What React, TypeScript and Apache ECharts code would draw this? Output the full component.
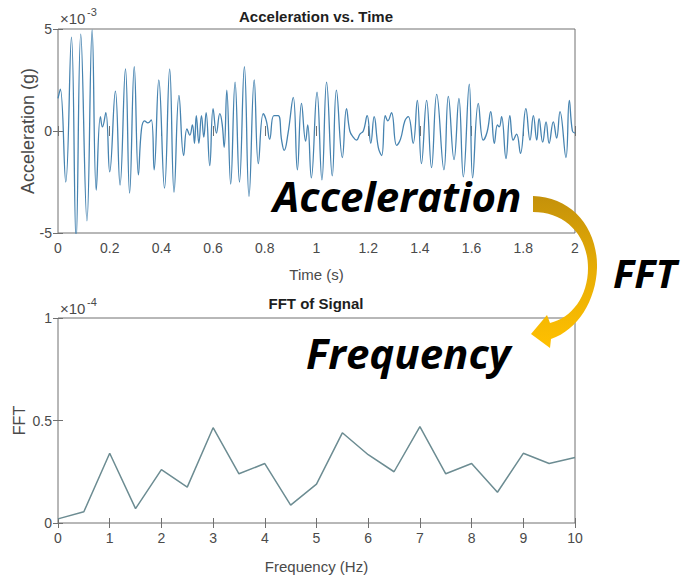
import React, { useEffect, useRef } from "react";
import * as echarts from "echarts";

// ---- Acceleration vs. Time (values in units of 1e-3 g) ----
const accTime = [
  0.0, 0.009, 0.03, 0.052, 0.07, 0.088, 0.112, 0.132, 0.148, 0.164, 0.172, 0.185,
  0.2, 0.222, 0.24, 0.261, 0.277, 0.295, 0.311, 0.323, 0.335, 0.348, 0.361, 0.372,
  0.39, 0.412, 0.432, 0.449, 0.468, 0.486, 0.499, 0.51, 0.52, 0.528, 0.535, 0.545,
  0.555, 0.564, 0.573, 0.587, 0.6, 0.613, 0.626, 0.635, 0.643, 0.653, 0.668, 0.685,
  0.702, 0.721, 0.739, 0.759, 0.775, 0.794, 0.806, 0.819, 0.835, 0.852, 0.865, 0.875,
  0.89, 0.91, 0.926, 0.942, 0.958, 0.966, 0.98, 1.002, 1.021, 1.039, 1.061, 1.077,
  1.1, 1.116, 1.129, 1.142, 1.155, 1.168, 1.181, 1.196, 1.21, 1.223, 1.239, 1.252,
  1.266, 1.276, 1.29, 1.31, 1.325, 1.342, 1.355, 1.374, 1.39, 1.406, 1.426, 1.445,
  1.465, 1.493, 1.51, 1.532, 1.551, 1.568, 1.591, 1.604, 1.626, 1.645, 1.66, 1.674,
  1.688, 1.7, 1.707, 1.716, 1.733, 1.748, 1.761, 1.774, 1.789, 1.81, 1.826, 1.839,
  1.852, 1.861, 1.875, 1.888, 1.9, 1.916, 1.929, 1.942, 1.965, 1.978, 1.99, 2.0,
];
const accValue = [
  1.6, 2.05, -2.5, 4.6, -5.4, 4.75, -4.4, 4.95, -2.9, 0.7, 0.2, 0.9,
  -2.0, 1.95, -2.65, 3.05, -3.05, 3.15, -2.15, 0.1, 0.5, 0.4, 0.55, -1.9,
  2.5, -2.8, 3.05, -3.0, 1.75, -1.2, 0.1, -0.2, 0.3, -0.6, 0.75, -0.6,
  0.75, -0.3, 0.9, -1.7, 1.1, -0.1, 0.85, 0.35, -0.8, 2.0, -2.6, 2.4,
  -2.5, 3.15, -3.2, 2.5, -1.6, 0.85, 0.5, -0.4, 0.75, 0.75, -0.45, -0.95,
  -0.1, 1.65, -1.9, 1.35, -0.5, 0.3, -2.3, 1.9, -2.4, 2.4, -2.2, 2.0,
  -1.3, 1.1, 0.0, -0.3, -0.45, -0.15, 0.0, 0.75, -0.6, 0.7, -0.8, -1.2,
  0.75, 0.5, 0.9, -0.7, -0.4, 0.5, 0.7, -0.6, 1.5, -1.6, 1.5, -1.8,
  1.8, -1.9, 1.7, -1.4, 1.6, -2.25, 2.3, -2.3, 1.35, -0.45, -0.05, 0.95,
  -0.6, 0.3, 0.2, 0.7, -1.35, 0.75, -0.45, -0.15, -1.1, 1.1, -0.45, 0.75,
  -0.45, 0.6, -0.55, 0.45, -0.6, 0.45, -0.35, 0.95, -1.3, 1.5, 0.0, -0.1,
];

// ---- FFT of Signal (values in units of 1e-4) ----
const fftFreq = [0, 0.5, 1, 1.5, 2, 2.5, 3, 3.5, 4, 4.5, 5, 5.5, 6, 6.5, 7, 7.5, 8, 8.5, 9, 9.5, 10];
const fftValue = [
  0.02, 0.055, 0.34, 0.07, 0.26, 0.175, 0.465, 0.24, 0.29, 0.087, 0.19,
  0.44, 0.333, 0.25, 0.47, 0.24, 0.29, 0.15, 0.34, 0.29, 0.32,
];

// ---- Text ----
const topTitle = "Acceleration vs. Time";
const bottomTitle = "FFT of Signal";
const topXName = "Time (s)";
const topYName = "Acceleration (g)";
const bottomXName = "Frequency (Hz)";
const bottomYName = "FFT";
const topExponent = "-3";
const bottomExponent = "-4";
const overlayAcc = "Acceleration";
const overlayFreq = "Frequency";
const overlayFft = "FFT";

const ARROW_D =
  "M533 196 C572 197 598 228 597 268 C596 300 578 330 551 339 L550 348 L531 334 L547 315 L550 323 C572 318 588 296 588 268 C588 236 566 212 533 212 Z";

const FONT = "'Liberation Sans', Arial, Helvetica, sans-serif";
const LABEL = "#4a4a4a";
const LINE = "#707070";

export default function App() {
  const ref = useRef<HTMLDivElement>(null);

  useEffect(() => {
    document.body.style.margin = "0";
    if (!ref.current) return;
    echarts.graphic.registerShape("fftArrow", echarts.graphic.extendPath(ARROW_D, {}) as any);
    const chart = echarts.init(ref.current, undefined, { renderer: "svg" });

    const tick = { show: true, inside: true, length: 5, lineStyle: { color: LINE, width: 1 } };
    const lbl = { fontSize: 14, color: LABEL, fontFamily: FONT };
    const nameStyle = { fontSize: 15, color: LABEL, fontFamily: FONT };

    const option: any = {
      animation: false,
      backgroundColor: "#ffffff",
      title: [
        {
          text: topTitle, left: 316, top: 9, textAlign: "center", padding: 0,
          textStyle: { fontSize: 15, fontWeight: "bold", color: "#1e1e1e", fontFamily: FONT },
        },
        {
          text: bottomTitle, left: 316, top: 296, textAlign: "center", padding: 0,
          textStyle: { fontSize: 15, fontWeight: "bold", color: "#1e1e1e", fontFamily: FONT },
        },
      ],
      grid: [
        { left: 58, top: 29, width: 517, height: 204, show: true, borderColor: LINE, borderWidth: 1, backgroundColor: "#fff" },
        { left: 58, top: 318, width: 517, height: 205, show: true, borderColor: LINE, borderWidth: 1, backgroundColor: "#fff" },
      ],
      xAxis: [
        {
          gridIndex: 0, type: "value", min: 0, max: 2, interval: 0.2, position: "bottom",
          axisLine: { show: false }, axisTick: tick, splitLine: { show: false },
          axisLabel: { ...lbl, margin: 8 },
          name: topXName, nameLocation: "middle", nameGap: 34, nameMoveOverlap: false, nameTextStyle: nameStyle,
        },
        {
          gridIndex: 0, type: "value", min: 0, max: 2, interval: 0.2, position: "top",
          axisLine: { show: false }, axisTick: tick, splitLine: { show: false }, axisLabel: { show: false },
        },
        {
          gridIndex: 1, type: "value", min: 0, max: 10, interval: 1, position: "bottom",
          axisLine: { show: false }, axisTick: tick, splitLine: { show: false },
          axisLabel: { ...lbl, margin: 8 },
          name: bottomXName, nameLocation: "middle", nameGap: 36, nameMoveOverlap: false, nameTextStyle: nameStyle,
        },
        {
          gridIndex: 1, type: "value", min: 0, max: 10, interval: 1, position: "top",
          axisLine: { show: false }, axisTick: tick, splitLine: { show: false }, axisLabel: { show: false },
        },
      ],
      yAxis: [
        {
          gridIndex: 0, type: "value", min: -5, max: 5, interval: 5, position: "left",
          axisLine: { show: false }, axisTick: tick, splitLine: { show: false },
          axisLabel: { ...lbl, margin: 6 },
          name: topYName, nameLocation: "middle", nameGap: 21, nameMoveOverlap: false,
          nameTextStyle: { ...nameStyle, fontSize: 18 },
        },
        {
          gridIndex: 0, type: "value", min: -5, max: 5, interval: 5, position: "right",
          axisLine: { show: false }, axisTick: tick, splitLine: { show: false }, axisLabel: { show: false },
        },
        {
          gridIndex: 1, type: "value", min: 0, max: 1, interval: 0.5, position: "left",
          axisLine: { show: false }, axisTick: tick, splitLine: { show: false },
          axisLabel: { ...lbl, margin: 6 },
          name: bottomYName, nameLocation: "middle", nameGap: 31, nameMoveOverlap: false,
          nameTextStyle: { ...nameStyle, fontSize: 16 },
        },
        {
          gridIndex: 1, type: "value", min: 0, max: 1, interval: 0.5, position: "right",
          axisLine: { show: false }, axisTick: tick, splitLine: { show: false }, axisLabel: { show: false },
        },
      ],
      series: [
        {
          type: "line", xAxisIndex: 0, yAxisIndex: 0,
          data: accTime.map((t, i) => [t, accValue[i]]),
          smooth: 0.45, showSymbol: false, clip: true,
          lineStyle: { color: "#4683b0", width: 1.3 },
        },
        {
          type: "line", xAxisIndex: 2, yAxisIndex: 2,
          data: fftFreq.map((f, i) => [f, fftValue[i]]),
          showSymbol: false, clip: true,
          lineStyle: { color: "#6c8c92", width: 1.5 },
        },
      ],
      graphic: [
        { type: "text", z: 100, x: 60, y: 18, style: { text: "×10", fontSize: 15, fill: LABEL, fontFamily: FONT, textVerticalAlign: "middle" } },
        { type: "text", z: 100, x: 87, y: 12, style: { text: topExponent, fontSize: 11, fill: LABEL, fontFamily: FONT, textVerticalAlign: "middle" } },
        { type: "text", z: 100, x: 60, y: 308, style: { text: "×10", fontSize: 15, fill: LABEL, fontFamily: FONT, textVerticalAlign: "middle" } },
        { type: "text", z: 100, x: 87, y: 302, style: { text: bottomExponent, fontSize: 11, fill: LABEL, fontFamily: FONT, textVerticalAlign: "middle" } },
        {
          type: "fftArrow", z: 100, x: 0, y: 0,
          style: {
            fill: new echarts.graphic.LinearGradient(0, 0, 0, 1, [
              { offset: 0, color: "#c4910a" },
              { offset: 0.5, color: "#e8ae05" },
              { offset: 1, color: "#ffc000" },
            ]),
          },
        },
        {
          type: "text", z: 100, x: 273, y: 195,
          style: { text: overlayAcc, fontSize: 42, fontWeight: "bold", fontStyle: "italic", fontFamily: "'Open Sans', sans-serif", fill: "#000", textVerticalAlign: "middle" },
        },
        {
          type: "text", z: 100, x: 306, y: 352,
          style: { text: overlayFreq, fontSize: 42, fontWeight: "bold", fontStyle: "italic", fontFamily: "'Open Sans', sans-serif", fill: "#000", textVerticalAlign: "middle" },
        },
        {
          type: "text", z: 100, x: 613, y: 272,
          style: { text: overlayFft, fontSize: 40, fontWeight: "bold", fontStyle: "italic", fontFamily: "'Open Sans', sans-serif", fill: "#000", textVerticalAlign: "middle" },
        },
      ],
    };
    chart.setOption(option);
    return () => chart.dispose();
  }, []);

  return <div ref={ref} style={{ width: 692, height: 584 }} />;
}
